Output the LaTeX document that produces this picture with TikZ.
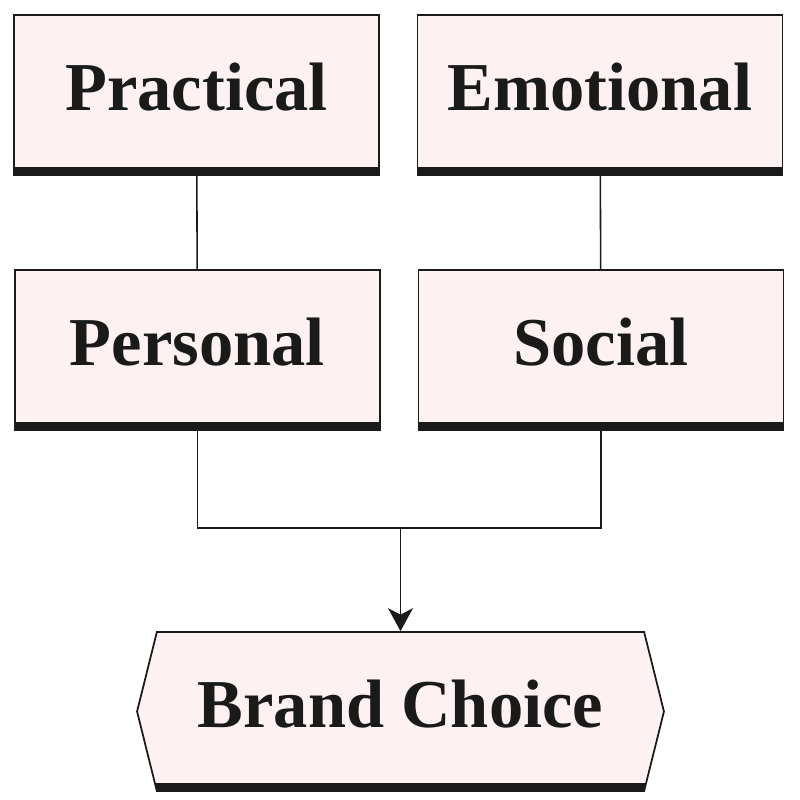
\documentclass[tikz,border=0pt]{standalone}
\usepackage{fontspec}
\setmainfont{Liberation Serif}
\usetikzlibrary{arrows.meta,shapes.symbols}
\definecolor{blush}{HTML}{FDF2F1}
\definecolor{ink}{HTML}{1A1A1A}
\begin{document}
\begin{tikzpicture}[
  x=0.02cm,y=-0.02cm,
  >={Stealth[length=0.46cm,width=0.5cm,inset=0.13cm]},
  every node/.style={font=\fontsize{39}{41}\selectfont\bfseries,text=ink},
  card/.style={rectangle,draw=ink,fill=blush,line width=1pt,
    minimum width=7.3cm,minimum height=3.2cm,inner sep=0pt,
    text height=0.94cm,text depth=0.3cm,
    path picture={\fill[ink] (path picture bounding box.south west)
      rectangle ([yshift=0.16cm]path picture bounding box.south east);}},
  goal/.style={card,signal,signal to=east and west,signal pointer angle=152,
    minimum width=10.54cm,minimum height=3.18cm},
  link/.style={draw=ink,line width=0.9pt}
]
\useasboundingbox (0,0) rectangle (800,800);
\node[card] (prac) at (196.5,95) {Practical};
\node[card] (emot) at (600,95) {Emotional};
\node[card] (pers) at (197.5,350) {Personal};
\node[card] (soc) at (601,350) {Social};
\node[goal] (brand) at (400.5,711.5) {Brand Choice};
\coordinate (join) at (400.5,528);
\draw[link] (prac) -- (pers);
\draw[link] (emot) -- (soc);
\draw[link] (pers.south) |- (join) -| (soc.south);
\draw[link,->] (join) -- (brand.north);
\end{tikzpicture}
\end{document}
